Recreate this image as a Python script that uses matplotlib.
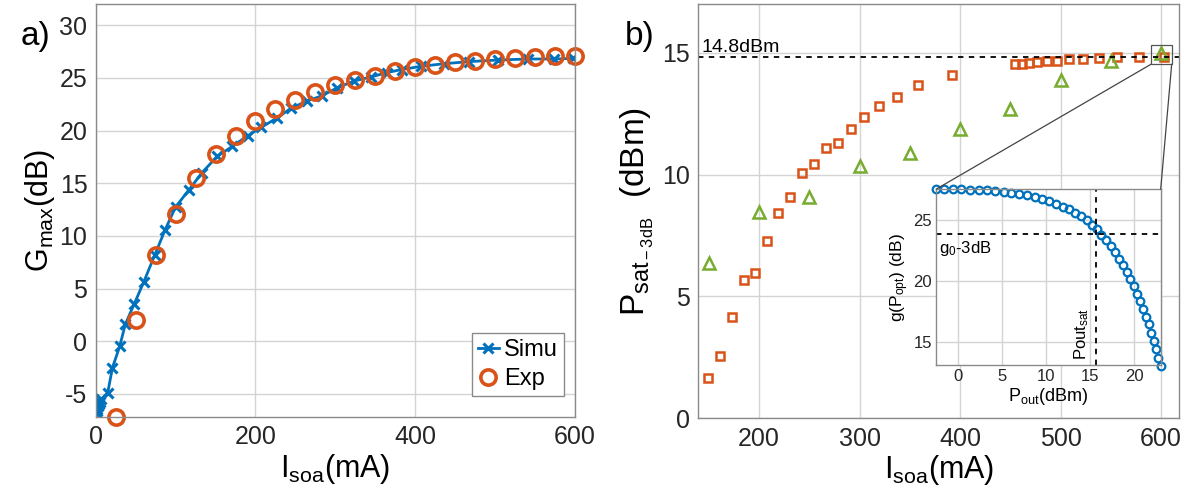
import matplotlib
matplotlib.use('Agg')
import matplotlib.pyplot as plt
from matplotlib.patches import Rectangle, ConnectionPatch

plt.rcParams['font.family'] = ['Liberation Sans', 'DejaVu Sans']
plt.rcParams['mathtext.fontset'] = 'custom'
plt.rcParams['mathtext.rm'] = 'Liberation Sans'
plt.rcParams['mathtext.it'] = 'Liberation Sans'
plt.rcParams['axes.unicode_minus'] = False

# a) gain maximale
simu_i = [0, 1, 2, 3, 4, 5, 7, 15, 21, 30, 37, 48, 60, 74, 87, 100, 117, 133, 152, 171,
          190, 207, 227, 244, 264, 283, 302, 323, 345, 364, 383, 407, 436, 467, 503, 541, 574, 598]
simu_g = [-6.8, -6.6, -6.4, -6.2, -6.0, -5.8, -5.5, -4.9, -2.5, -0.5, 1.6, 3.5, 5.6, 8.2, 10.6,
          12.75, 14.4, 16.0, 17.55, 18.5, 19.5, 20.3, 21.2, 22.1, 22.8, 23.3, 24.05, 24.7, 25.1,
          25.5, 25.8, 26.1, 26.35, 26.55, 26.7, 26.8, 26.8, 26.85]
exp_i = [25, 50, 75, 100, 125, 150, 175, 200, 225, 250, 275, 300, 325, 350, 375, 400,
         425, 450, 475, 500, 525, 550, 575, 600]
exp_g = [-7.2, 2.0, 8.2, 12.1, 15.5, 17.8, 19.5, 20.9, 22.05, 22.9, 23.7, 24.3, 24.85, 25.2,
         25.65, 26.0, 26.27, 26.5, 26.6, 26.8, 26.9, 27.0, 27.05, 27.1]

# b) puissance de saturation
sq_i = [149.7, 161.4, 173.2, 184.9, 196.2, 207.6, 219.3, 231.0, 243.1, 254.8, 266.9, 278.6,
        291.1, 304.6, 319.6, 336.8, 358.5, 392.0, 454.4, 461.1, 468.4, 476.6, 486.0, 496.5,
        508.2, 521.8, 537.7, 556.0, 577.5, 602.7]
sq_p = [1.64, 2.55, 4.16, 5.69, 5.98, 7.27, 8.42, 9.10, 10.06, 10.44, 11.09, 11.29, 11.88,
        12.37, 12.81, 13.18, 13.68, 14.07, 14.53, 14.55, 14.57, 14.62, 14.65, 14.65, 14.73,
        14.75, 14.78, 14.82, 14.84, 14.84]
tri_i = [150, 200, 250, 300, 350, 400, 450, 500, 550, 600]
tri_p = [6.38, 8.46, 9.07, 10.37, 10.88, 11.88, 12.70, 13.88, 14.67, 14.98]

# encart g(Popt)
ins_p = [-2.57, -1.59, -0.60, 0.34, 1.33, 2.32, 3.26, 4.20, 5.16, 6.02, 6.93, 7.81, 8.68,
         9.51, 10.31, 11.10, 11.86, 12.58, 13.26, 13.94, 14.59, 15.16, 15.73, 16.25, 16.78,
         17.31, 17.81, 18.26, 18.72, 19.14, 19.55, 19.97, 20.34, 20.68, 21.02, 21.36, 21.67,
         21.93, 22.20, 22.47, 22.73, 23.00]
ins_g = [27.55, 27.57, 27.55, 27.54, 27.51, 27.47, 27.44, 27.40, 27.33, 27.26, 27.17, 27.05,
         26.90, 26.73, 26.54, 26.34, 26.12, 25.88, 25.60, 25.30, 24.98, 24.62, 24.24, 23.80,
         23.33, 22.86, 22.37, 21.80, 21.28, 20.73, 20.13, 19.55, 18.92, 18.32, 17.66, 17.06,
         16.43, 15.74, 15.08, 14.38, 13.69, 13.05]

bleu = '#0072BD'
orange = '#D95319'
vert = '#77AC30'
gris_axe = '#8a8a8a'
gris_grille = '#d4d4d4'


def style_axe(ax, taille):
    for s in ax.spines.values():
        s.set_color(gris_axe)
        s.set_linewidth(1.0)
    ax.grid(True, color=gris_grille, linewidth=1.0)
    ax.set_axisbelow(True)
    ax.tick_params(length=0, labelsize=taille, colors='#262626', pad=6)


fig = plt.figure(figsize=(11.95, 5.04), dpi=100)

# ---- a)
ax1 = fig.add_axes([0.0801, 0.1726, 0.4011, 0.819])
style_axe(ax1, 18)
ax1.plot(simu_i, simu_g, '-x', color=bleu, lw=2, ms=7, mew=2.2, label='Simu')
ax1.plot(exp_i, exp_g, 'o', color=orange, mfc='none', ms=11, mew=2.6, clip_on=False, label='Exp')
ax1.set_xlim(0, 600)
ax1.set_ylim(-7.2, 32)
ax1.set_xticks([0, 200, 400, 600])
ax1.set_yticks(range(-5, 31, 5))
ax1.set_xlabel(r'I$_{\rm soa}$(mA)', fontsize=22, labelpad=2)
ax1.set_ylabel(r'G$_{\rm max}$(dB)', fontsize=22, labelpad=2)
leg = ax1.legend(loc='lower right', fontsize=17, handlelength=0.9, handletextpad=0.2,
                 borderpad=0.25, labelspacing=0.3, fancybox=False, framealpha=1,
                 borderaxespad=0, bbox_to_anchor=(0.976, 0.051))
leg.get_frame().set_edgecolor(gris_axe)
fig.text(0.017, 0.91, 'a)', fontsize=24)

# ---- b)
ax2 = fig.add_axes([0.5843, 0.170, 0.4025, 0.822])
style_axe(ax2, 18)
ax2.plot(sq_i, sq_p, 's', color=orange, mfc='none', ms=5.5, mew=1.8, clip_on=False)
ax2.plot(tri_i, tri_p, '^', color=vert, mfc='none', ms=9, mew=1.8, clip_on=False)
ax2.axhline(14.82, color='black', ls=(0, (3, 3)), lw=1.3)
ax2.text(143, 15.05, '14.8dBm', fontsize=14)
ax2.set_xlim(139.5, 618)
ax2.set_ylim(0, 17)
ax2.set_xticks([200, 300, 400, 500, 600])
ax2.set_yticks([0, 5, 10, 15])
ax2.set_xlabel(r'I$_{\rm soa}$(mA)', fontsize=22, labelpad=2)
ax2.set_ylabel(r'P$_{{\rm sat}_{\rm -3dB}}$  (dBm)', fontsize=24, labelpad=4)
fig.text(0.523, 0.91, 'b)', fontsize=24)

ax2.add_patch(Rectangle((590, 14.53), 20.5, 0.78, fill=False, edgecolor='#555555', lw=0.9,
                        clip_on=False, zorder=5))

# ---- encart
axi = fig.add_axes([0.7835, 0.2758, 0.1878, 0.349])
style_axe(axi, 12)
axi.tick_params(pad=3)
axi.plot(ins_p, ins_g, 'o', color=bleu, mfc='none', ms=5.5, mew=1.6, clip_on=False)
axi.axhline(23.85, color='black', ls=(0, (3, 3)), lw=1.3)
axi.axvline(15.6, color='black', ls=(0, (3, 3)), lw=1.3)
axi.set_xlim(-2.5, 23)
axi.set_ylim(13.1, 27.55)
axi.set_xticks([0, 5, 10, 15, 20])
axi.set_yticks([15, 20, 25])
axi.set_xlabel(r'P$_{\rm out}$(dBm)', fontsize=13, labelpad=1)
axi.set_ylabel(r'g(P$_{\rm opt}$) (dB)', fontsize=12.5, labelpad=2)
axi.text(-2.2, 23.45, r'g$_0$-3dB', fontsize=12, va='top')
axi.text(15.05, 13.5, r'Pout$_{\rm sat}$', fontsize=12, rotation=90, ha='right', va='bottom')

for xa, xb in [((590, 14.53), (0, 1)), ((610.5, 14.53), (1, 1))]:
    con = ConnectionPatch(xyA=xa, coordsA=ax2.transData, xyB=xb, coordsB=axi.transAxes,
                          color='#444444', lw=0.9)
    fig.add_artist(con)

fig.savefig('out.png', dpi=100)
